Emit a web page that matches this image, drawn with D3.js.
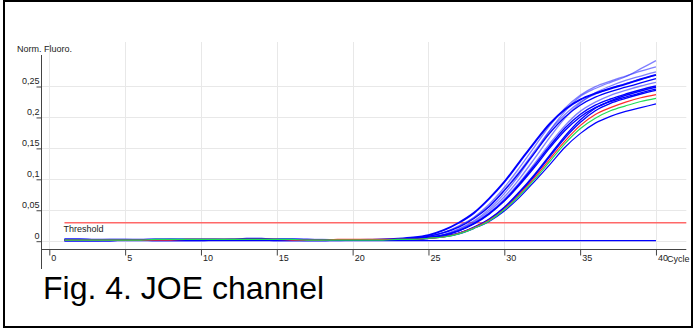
<!DOCTYPE html>
<html>
<head>
<meta charset="utf-8">
<script src="https://cdn.jsdelivr.net/npm/d3@7"></script>
<style>
  html, body { margin: 0; padding: 0; background: #fff; }
  svg { display: block; font-family: Arial, "Liberation Sans", sans-serif; }
</style>
</head>
<body>
<svg id="chart" width="694" height="329"></svg>
<script>
// Amplification run, JOE channel: normalised fluorescence per cycle.
const cycles = [1,2,3,4,5,6,7,8,9,10,11,12,13,14,15,16,17,18,19,20,
                21,22,23,24,25,26,27,28,29,30,31,32,33,34,35,36,37,38,39,40];

const wellA1 = [0.002,0.002,0.001,0.001,0.001,0.001,0.002,0.002,0.002,0.002,0.002,0.002,0.003,0.003,0.002,0.002,0.001,0.001,0.001,0.001,0.001,0.002,
  0.003,0.005,0.009,0.017,0.029,0.045,0.068,0.095,0.127,0.159,0.189,0.212,0.228,0.238,0.246,0.253,0.261,0.268];
const wellA2 = [0.001,0.001,0.001,0.001,0.001,0.001,0.001,0.002,0.002,0.002,0.002,0.002,0.002,0.002,0.002,0.002,0.001,0.001,0.001,0.001,0.001,0.001,
  0.002,0.003,0.006,0.010,0.019,0.032,0.051,0.076,0.107,0.142,0.178,0.209,0.233,0.246,0.256,0.265,0.278,0.291];
const wellA3 = [0.003,0.003,0.002,0.002,0.002,0.002,0.002,0.002,0.001,0.001,0.001,0.001,0.001,0.002,0.002,0.002,0.002,0.002,0.001,0.001,0.001,0.001,
  0.002,0.004,0.007,0.013,0.024,0.038,0.059,0.086,0.118,0.152,0.186,0.214,0.235,0.249,0.258,0.266,0.274,0.281];
const wellA4 = [0.000,0.000,0.000,0.001,0.001,0.001,0.001,0.001,0.001,0.001,0.001,0.001,0.002,0.002,0.002,0.002,0.002,0.001,0.001,0.001,0.001,0.001,
  0.002,0.003,0.005,0.010,0.018,0.030,0.048,0.071,0.100,0.133,0.167,0.198,0.222,0.239,0.250,0.259,0.266,0.273];
const wellB1 = [0.001,0.001,0.001,0.002,0.002,0.002,0.002,0.002,0.002,0.002,0.002,0.001,0.001,0.001,0.001,0.001,0.001,0.001,0.001,0.001,0.002,0.002,
  0.002,0.004,0.007,0.013,0.023,0.037,0.056,0.082,0.112,0.145,0.178,0.204,0.224,0.237,0.246,0.254,0.261,0.268];
const wellB2 = [0.001,0.001,0.001,0.001,0.001,0.001,0.000,0.000,0.000,0.000,0.001,0.001,0.001,0.001,0.001,0.001,0.001,0.001,0.001,0.001,0.001,0.001,
  0.002,0.004,0.007,0.013,0.022,0.036,0.055,0.081,0.110,0.142,0.174,0.200,0.219,0.232,0.241,0.248,0.255,0.262];
const wellB3 = [0.002,0.002,0.002,0.002,0.002,0.001,0.001,0.001,0.001,0.001,0.001,0.001,0.001,0.001,0.001,0.001,0.000,0.000,0.000,0.001,0.001,0.001,
  0.002,0.003,0.005,0.009,0.017,0.028,0.045,0.067,0.094,0.125,0.157,0.186,0.209,0.224,0.235,0.243,0.250,0.256];
const wellB4 = [0.001,0.001,0.001,0.001,0.001,0.001,0.001,0.001,0.001,0.001,0.001,0.001,0.001,0.001,0.001,0.001,0.001,0.001,0.001,0.001,0.001,0.001,
  0.002,0.003,0.005,0.009,0.016,0.028,0.044,0.065,0.092,0.122,0.153,0.182,0.204,0.219,0.229,0.237,0.244,0.250];
const wellC1 = [0.000,0.000,0.000,0.000,0.001,0.001,0.001,0.001,0.001,0.001,0.001,0.001,0.001,0.001,0.001,0.001,0.001,0.001,0.001,0.001,0.001,0.001,
  0.002,0.002,0.004,0.007,0.012,0.022,0.035,0.054,0.079,0.107,0.138,0.169,0.195,0.214,0.226,0.235,0.242,0.248];
const wellC2 = [0.001,0.001,0.001,0.001,0.001,0.001,0.001,0.001,0.001,0.001,0.001,0.002,0.002,0.002,0.002,0.002,0.002,0.001,0.001,0.001,0.001,0.001,
  0.002,0.003,0.005,0.009,0.016,0.027,0.043,0.064,0.090,0.119,0.150,0.178,0.200,0.215,0.225,0.232,0.239,0.245];
const wellC3 = [0.001,0.001,0.001,0.001,0.001,0.001,0.001,0.001,0.001,0.001,0.001,0.001,0.001,0.001,0.001,0.001,0.001,0.001,0.001,0.001,0.001,0.001,
  0.002,0.002,0.004,0.007,0.012,0.021,0.034,0.053,0.077,0.105,0.136,0.166,0.191,0.210,0.222,0.230,0.237,0.243];
const wellC4 = [0.000,0.000,0.000,0.000,0.001,0.001,0.001,0.001,0.001,0.001,0.001,0.001,0.001,0.001,0.000,0.000,0.000,0.000,0.001,0.001,0.001,0.001,
  0.002,0.002,0.004,0.006,0.011,0.020,0.031,0.048,0.070,0.096,0.123,0.151,0.173,0.190,0.201,0.209,0.215,0.221];
const posControl = [0.001,0.001,0.001,0.001,0.001,0.001,0.001,0.001,0.002,0.002,0.002,0.002,0.002,0.002,0.002,0.001,0.001,0.001,0.002,0.002,0.002,0.002,
  0.002,0.002,0.004,0.006,0.012,0.021,0.033,0.051,0.075,0.102,0.132,0.161,0.186,0.204,0.215,0.224,0.231,0.236];
const stdControl = [0.001,0.001,0.001,0.001,0.001,0.001,0.002,0.002,0.002,0.002,0.002,0.002,0.002,0.002,0.002,0.002,0.001,0.001,0.001,0.001,0.001,0.001,
  0.002,0.002,0.004,0.006,0.011,0.020,0.032,0.050,0.073,0.099,0.128,0.157,0.181,0.198,0.210,0.218,0.225,0.230];
const negControl = [0,0,0,0,0,0,0,0,0,0,0,0,0,0,0,0,0,0,0,0,
                    0,0,0,0,0,0,0,0,0,0,0,0,0,0,0,0,0,0,0,0];

const threshold = 0.029;
const xTickValues = [0, 5, 10, 15, 20, 25, 30, 35, 40];
const yTickValues = [0, 0.05, 0.1, 0.15, 0.2, 0.25];

// drawing order and stroke style for each trace
const traces = [
  { values: negControl, color: "#0000ff", width: 1.2, opacity: 1 },
  { values: wellA2, color: "#2a2aff", width: 1.3, opacity: 0.6 },
  { values: wellA3, color: "#2a2aff", width: 1.3, opacity: 0.6 },
  { values: wellA4, color: "#2a2aff", width: 1.3, opacity: 0.6 },
  { values: wellB1, color: "#2a2aff", width: 1.3, opacity: 0.6 },
  { values: wellB3, color: "#2a2aff", width: 1.3, opacity: 0.6 },
  { values: wellB2, color: "#0000ff", width: 1.3, opacity: 1 },
  { values: wellB4, color: "#0000ff", width: 1.4, opacity: 1 },
  { values: wellC1, color: "#0000ff", width: 1.4, opacity: 1 },
  { values: wellC2, color: "#0000ff", width: 1.4, opacity: 1 },
  { values: wellC3, color: "#0000ff", width: 1.4, opacity: 1 },
  { values: wellC4, color: "#0000ff", width: 1.2, opacity: 1 },
  { values: wellA1, color: "#0000ff", width: 2, opacity: 1 },
  { values: posControl, color: "#ff2b2b", width: 1.2, opacity: 1 },
  { values: stdControl, color: "#22dd55", width: 1.2, opacity: 1 }
];

const svg = d3.select("#chart");

const x = d3.scaleLinear().domain([0, 42]).range([49.3, 686.3]);
const y = d3.scaleLinear().domain([0, 0.25]).range([240.7, 86]);

const plotTop = 42, axisY = 249.5, axisX = 41.5, plotRight = x(42);

// frame
svg.append("rect")
  .attr("x", 4).attr("y", 1).attr("width", 688).attr("height", 326)
  .attr("fill", "none").attr("stroke", "#000").attr("stroke-width", 2);

// grid
const grid = svg.append("g").attr("stroke", "#e8e8e8").attr("stroke-width", 1);
grid.selectAll("line.v").data(xTickValues).join("line")
  .attr("class", "v")
  .attr("x1", d => Math.round(x(d)) + 0.5).attr("x2", d => Math.round(x(d)) + 0.5)
  .attr("y1", plotTop).attr("y2", axisY);
grid.selectAll("line.h").data(yTickValues).join("line")
  .attr("class", "h")
  .attr("x1", axisX).attr("x2", plotRight)
  .attr("y1", d => Math.round(y(d)) + 0.5).attr("y2", d => Math.round(y(d)) + 0.5);

// threshold
svg.append("line")
  .attr("x1", x(1)).attr("x2", plotRight)
  .attr("y1", y(threshold)).attr("y2", y(threshold))
  .attr("stroke", "#ff6868").attr("stroke-width", 1.6);
svg.append("text")
  .attr("x", x(1) - 1).attr("y", y(threshold) + 9)
  .attr("font-size", 9).attr("fill", "#222")
  .text("Threshold");

// traces
const line = d3.line()
  .x((d, i) => x(cycles[i]))
  .y(d => y(d))
  .curve(d3.curveMonotoneX);

svg.append("g").attr("fill", "none")
  .selectAll("path").data(traces).join("path")
  .attr("d", d => line(d.values))
  .attr("stroke", d => d.color)
  .attr("stroke-width", d => d.width)
  .attr("stroke-opacity", d => d.opacity);

// axes
const xAxis = d3.axisBottom(x).tickValues(xTickValues).tickSize(6).tickFormat(d3.format("d"));
const gx = svg.append("g").attr("transform", `translate(0.5,${axisY})`).call(xAxis);
gx.select(".domain").remove();
gx.selectAll(".tick line").attr("stroke", "#444").attr("transform", "translate(-0.5,0)");
gx.selectAll(".tick text")
  .attr("x", 1).attr("y", 5).attr("dy", "0.71em")
  .attr("text-anchor", "start")
  .attr("font-size", 9).attr("font-family", "Arial, 'Liberation Sans', sans-serif")
  .attr("fill", "#222");

const commaFormat = d => String(+d.toFixed(2)).replace(".", ",");
const yAxis = d3.axisLeft(y).tickValues(yTickValues).tickSize(5).tickFormat(commaFormat);
const gy = svg.append("g").attr("transform", `translate(${axisX},0.5)`).call(yAxis);
gy.select(".domain").remove();
gy.selectAll(".tick line").attr("stroke", "#444");
gy.selectAll(".tick text")
  .attr("x", -2).attr("y", -3).attr("dy", 0)
  .attr("text-anchor", "end")
  .attr("font-size", 9).attr("font-family", "Arial, 'Liberation Sans', sans-serif")
  .attr("fill", "#222");

svg.append("line")
  .attr("x1", axisX).attr("x2", axisX).attr("y1", 55).attr("y2", 269)
  .attr("stroke", "#444").attr("stroke-width", 1);
svg.append("line")
  .attr("x1", axisX).attr("x2", plotRight).attr("y1", axisY).attr("y2", axisY)
  .attr("stroke", "#444").attr("stroke-width", 1);

// axis titles
svg.append("text")
  .attr("x", 17).attr("y", 52)
  .attr("font-size", 9).attr("fill", "#222")
  .text("Norm. Fluoro.");
svg.append("text")
  .attr("x", 667).attr("y", 262)
  .attr("font-size", 9).attr("fill", "#222")
  .text("Cycle");

// caption
svg.append("text")
  .attr("x", 43).attr("y", 299)
  .attr("font-size", 32).attr("fill", "#000")
  .text("Fig. 4. JOE channel");
</script>
</body>
</html>
